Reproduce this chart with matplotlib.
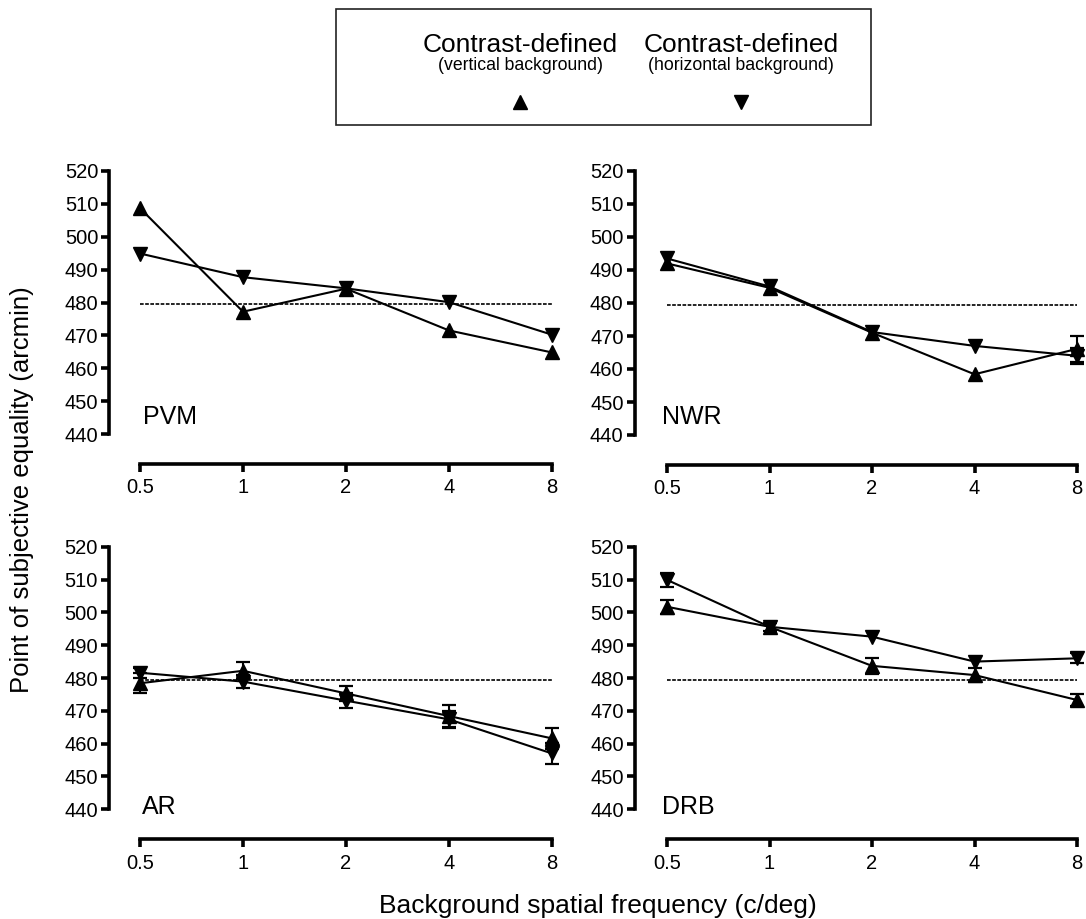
import matplotlib
matplotlib.use("Agg")
import matplotlib.pyplot as plt
from matplotlib.patches import Rectangle
from matplotlib.lines import Line2D

plt.rcParams['font.family'] = ['Liberation Sans', 'DejaVu Sans']

freqs = [0.5, 1, 2, 4, 8]
freq_labels = ["0.5", "1", "2", "4", "8"]
yticks = [440, 450, 460, 470, 480, 490, 500, 510, 520]
reference_value = 479.5

observers = ["PVM", "NWR", "AR", "DRB"]

# errors of 0 = error bar smaller than the symbol (not drawn)
pvm_vert = [508.7, 477.2, 484.2, 471.5, 464.8]
pvm_vert_err = [0, 0, 0, 0, 0]
pvm_horiz = [494.9, 487.7, 484.3, 480.1, 470.2]
pvm_horiz_err = [0, 0, 0, 0, 0]

nwr_vert = [492.0, 484.6, 471.0, 458.4, 466.1]
nwr_vert_err = [0, 0, 0, 0, 3.9]
nwr_horiz = [493.5, 485.0, 471.2, 467.0, 464.0]
nwr_horiz_err = [0, 0, 0, 0, 2.5]

ar_vert = [478.4, 482.2, 475.3, 468.4, 461.6]
ar_vert_err = [3.0, 2.6, 2.3, 3.4, 3.1]
ar_horiz = [481.6, 478.9, 473.1, 467.4, 457.0]
ar_horiz_err = [1.5, 2.0, 2.2, 2.5, 3.3]

drb_vert = [501.7, 495.6, 483.7, 480.9, 473.3]
drb_vert_err = [2.1, 0, 2.5, 2.0, 1.8]
drb_horiz = [509.9, 495.6, 492.6, 485.0, 486.0]
drb_horiz_err = [2.2, 1.2, 0, 0, 1.5]

series = {
    "PVM": (pvm_vert, pvm_vert_err, pvm_horiz, pvm_horiz_err),
    "NWR": (nwr_vert, nwr_vert_err, nwr_horiz, nwr_horiz_err),
    "AR": (ar_vert, ar_vert_err, ar_horiz, ar_horiz_err),
    "DRB": (drb_vert, drb_vert_err, drb_horiz, drb_horiz_err),
}

legend_title = "Contrast-defined"
legend_subs = ["(vertical background)", "(horizontal background)"]

W, H = 1086, 919
fig = plt.figure(figsize=(W / 100, H / 100), dpi=100)

def fx(px):
    return px / W

def fy(py):
    return 1 - py / H

# axes geometry in pixels: (left, top, right, bottom)
geom = {
    "PVM": (140, 171, 552, 434),
    "NWR": (667, 171, 1077, 435),
    "AR": (140, 546.7, 552, 809.3),
    "DRB": (667, 546.7, 1077, 809.3),
}
left_offset = {"PVM": 22.0, "NWR": 23.3, "AR": 22.3, "DRB": 23.0}
label_pos = {"PVM": (143, 424), "NWR": (662, 424), "AR": (142, 814), "DRB": (662, 814)}

for name in observers:
    l, t, r, b = geom[name]
    ax = fig.add_axes([fx(l), fy(b), fx(r) - fx(l), (b - t) / H])
    ax.set_xscale('log', base=2)
    ax.set_xlim(0.5, 8)
    ax.set_ylim(440, 520)
    ax.set_xticks(freqs)
    ax.set_xticklabels(freq_labels)
    ax.xaxis.set_minor_locator(matplotlib.ticker.NullLocator())
    ax.set_yticks(yticks)
    ax.set_yticklabels([str(v) for v in yticks])
    for s in ['top', 'right']:
        ax.spines[s].set_visible(False)
    ax.spines['left'].set_position(('outward', left_offset[name]))
    ax.spines['bottom'].set_position(('outward', 21.5))
    for s in ['left', 'bottom']:
        ax.spines[s].set_linewidth(2.6)
        ax.spines[s].set_capstyle('projecting')
    ax.tick_params(axis='both', direction='out', length=6, width=2.6,
                   labelsize=14.5, color='k')
    ax.tick_params(axis='y', pad=2)
    ax.tick_params(axis='x', pad=4.5)
    ax.patch.set_visible(False)

    ax.plot([freqs[0], freqs[-1]], [reference_value, reference_value],
            color='k', lw=1.2, dashes=(2.2, 0.9), zorder=1)

    v, ve, h, he = series[name]
    for vals, errs, mk in [(v, ve, '^'), (h, he, 'v')]:
        ax.plot(freqs, vals, '-', color='k', lw=1.5, zorder=3,
                marker=mk, ms=10, mec='k', mfc='k', clip_on=False)
        xs = [f for f, e in zip(freqs, errs) if e > 0]
        ys = [y for y, e in zip(vals, errs) if e > 0]
        es = [e for e in errs if e > 0]
        if xs:
            cont = ax.errorbar(xs, ys, yerr=es, fmt='none', ecolor='k',
                               elinewidth=1.5, capsize=4.8, capthick=1.6,
                               zorder=2)
            for art in cont.get_children():
                art.set_clip_on(False)

    lx, ly = label_pos[name]
    fig.text(fx(lx), fy(ly), name, fontsize=18, ha='left', va='baseline')

# legend box
fig.add_artist(Rectangle((fx(336), fy(125)), fx(871) - fx(336), (125 - 9) / H,
                         transform=fig.transFigure, fill=False,
                         edgecolor='#222222', lw=1.2))
centers = [(520, '^'), (741, 'v')]
for (cx, mk), sub in zip(centers, legend_subs):
    fig.text(fx(cx), fy(52), legend_title, fontsize=19, ha='center', va='baseline')
    fig.text(fx(cx), fy(70), sub, fontsize=12.7, ha='center', va='baseline')
    fig.add_artist(Line2D([fx(cx)], [fy(101.5)], marker=mk, ms=10, color='k',
                          mec='k', mfc='k', lw=0, transform=fig.transFigure))

fig.text(fx(22), fy(490), "Point of subjective equality (arcmin)", fontsize=18.5,
         rotation=90, ha='center', va='center')
fig.text(fx(598), fy(912.5), "Background spatial frequency (c/deg)", fontsize=19,
         ha='center', va='baseline')

fig.savefig("out.png", dpi=100)
